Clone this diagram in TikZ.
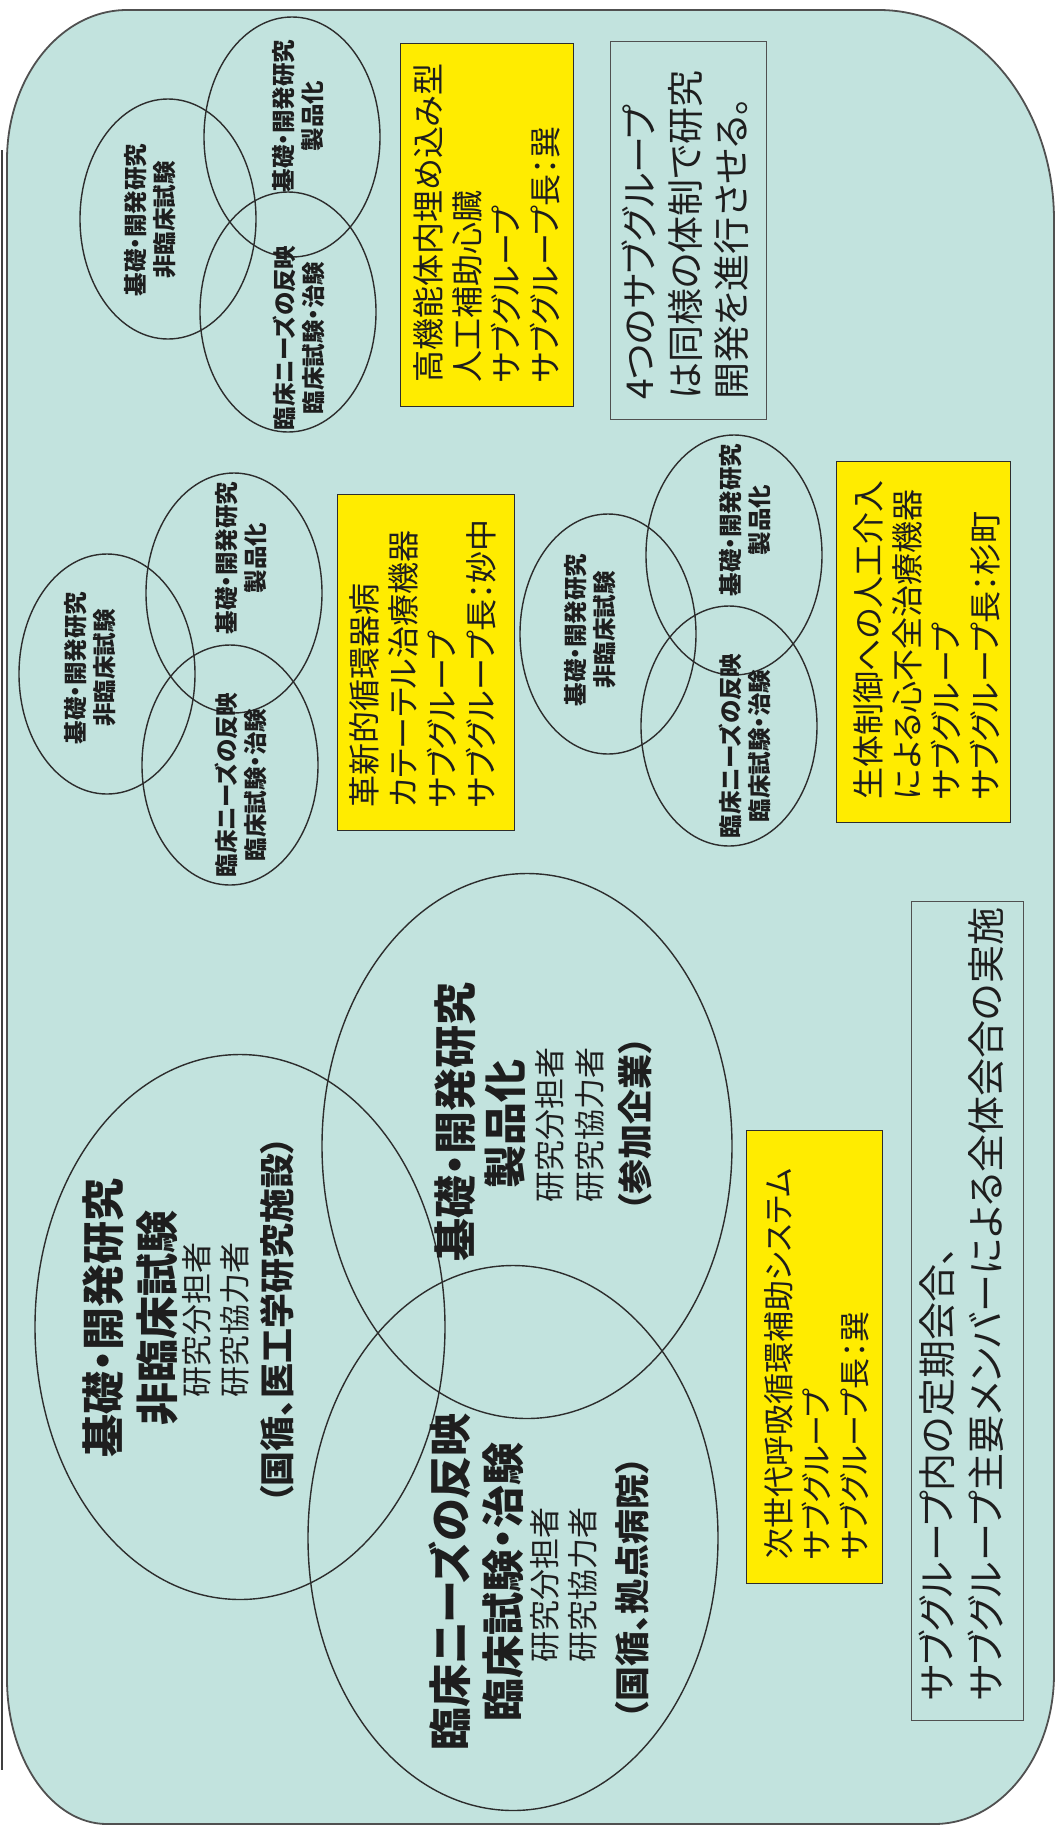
\documentclass[tikz,border=0pt]{standalone}
\usepackage{fontspec}
\setmainfont{Noto Sans CJK JP}[RawFeature=+palt]
\usetikzlibrary{shapes.geometric}
\definecolor{bgc}{RGB}{194,227,222}
\definecolor{ylw}{RGB}{255,236,0}
\definecolor{lnc}{RGB}{45,45,45}
\definecolor{txc}{RGB}{30,30,30}
\definecolor{edgec}{RGB}{80,80,80}
\newcommand\jfs[2]{\fontsize{#1}{#2}\selectfont}
\begin{document}
\begin{tikzpicture}[x=1pt,y=-1pt,
  ell/.style={draw=lnc, line width=1.4pt, ellipse, inner sep=0pt, minimum width=176pt, minimum height=240pt},
  bigell/.style={ell, minimum width=410pt, minimum height=545pt},
  smt/.style={rotate=90, align=center, inner sep=0pt, text=txc, font=\bfseries\jfs{23.5}{29}},
  bigt/.style={rotate=90, inner sep=0pt, text=txc, font=\bfseries\jfs{43}{50}},
  midt/.style={rotate=90, inner sep=0pt, text=txc, font=\jfs{31}{38}},
  part/.style={rotate=90, inner sep=0pt, text=txc, font=\bfseries\jfs{35}{42}},
  ybox/.style={draw=lnc, fill=ylw, line width=1.4pt, anchor=north west, inner sep=0pt},
  wbox/.style={draw=edgec, line width=1.4pt, anchor=north west, inner sep=0pt},
  ytxt/.style={rotate=90, anchor=north west, align=left, inner sep=0pt, text=txc, font=\jfs{32}{39}},
  wtxt/.style={rotate=90, anchor=north west, align=left, inner sep=0pt, text=txc}
]
\useasboundingbox (0,0) rectangle (1059,1831);
\fill[white] (0,0) rectangle (1059,1831);
% scan edge line
\draw[line width=2pt, black!75] (2,150) -- (2,1770);
% background panel
\filldraw[fill=bgc, draw=edgec, line width=1.8pt]
  (127,10) -- (879,10) .. controls (975.7,10) and (1054,104) .. (1054,220)
  -- (1054,1674) .. controls (1054,1757) and (1000.3,1824) .. (934,1824)
  -- (107,1824) .. controls (51.8,1824) and (7,1759.1) .. (7,1679)
  -- (7,160) .. controls (7,77.2) and (60.7,10) .. cycle;

% ---------- group 1 ----------
\node[ell] (e1) at (168,219) {};
\node[ell] (e2) at (292,137) {};
\node[ell] (e3) at (288,312) {};
\node[smt] (t1) at (150,220) {基礎・開発研究\\非臨床試験};
\node[smt] (t2) at (298,116) {基礎・開発研究\\製品化};
\node[smt] (t3) at (299,338) {臨床ニーズの反映\\臨床試験・治験};
\node[ybox, minimum width=173pt, minimum height=363pt] (y1) at (400,43) {};
\node[ytxt] (y1t) at (413,383) {高機能体内埋め込み型\\人工補助心臓\\サブグループ\\サブグループ長：巽};
\node[wbox, minimum width=156pt, minimum height=378pt] (w1) at (610,41) {};
\node[wtxt, font=\jfs{37}{46}] (w1t) at (622,400) {4つのサブグループ\\は同様の体制で研究\\開発を進行させる。};

% ---------- group 2 ----------
\node[ell] (e4) at (107,674) {};
\node[ell] (e5) at (234,593) {};
\node[ell] (e6) at (230,765) {};
\node[smt] (t4) at (90,668) {基礎・開発研究\\非臨床試験};
\node[smt] (t5) at (241,558) {基礎・開発研究\\製品化};
\node[smt] (t6) at (241,785) {臨床ニーズの反映\\臨床試験・治験};
\node[ybox, minimum width=177pt, minimum height=336pt] (y2) at (337,494) {};
\node[ytxt] (y2t) at (349,808) {革新的循環器病\\カテーテル治療機器\\サブグループ\\サブグループ長：妙中};

% ---------- group 3 ----------
\node[ell] (e7) at (608,634) {};
\node[ell] (e8) at (734,555) {};
\node[ell] (e9) at (729,726) {};
\node[smt] (t7) at (590,630) {基礎・開発研究\\非臨床試験};
\node[smt] (t8) at (745,520) {基礎・開発研究\\製品化};
\node[smt] (t9) at (745,746) {臨床ニーズの反映\\臨床試験・治験};
\node[ybox, minimum width=174pt, minimum height=361pt] (y3) at (836,461) {};
\node[ytxt] (y3t) at (853,800) {生体制御への人工介入\\による心不全治療機器\\サブグループ\\サブグループ長：杉町};

% ---------- group 4 (large) ----------
\node[bigell] (e10) at (240,1327) {};
\node[bigell] (e11) at (527,1146) {};
\node[bigell] (e12) at (513,1538) {};
\node[bigt] (e10a) at (103,1318) {基礎・開発研究};
\node[bigt] (e10b) at (157,1318) {非臨床試験};
\node[midt] (e10c) at (197,1320) {研究分担者};
\node[midt] (e10d) at (235,1320) {研究協力者};
\node[part] (e10e) at (277,1320) {（国循、医工学研究施設）};
\node[bigt] (e11a) at (455,1122) {基礎・開発研究};
\node[bigt] (e11b) at (505,1124) {製品化};
\node[midt] (e11c) at (550,1125) {研究分担者};
\node[midt] (e11d) at (590,1125) {研究協力者};
\node[part] (e11e) at (635,1124) {（参加企業）};
\node[bigt] (e12a) at (450,1582) {臨床ニーズの反映};
\node[bigt] (e12b) at (503,1582) {臨床試験・治験};
\node[midt] (e12c) at (545,1585) {研究分担者};
\node[midt] (e12d) at (583,1585) {研究協力者};
\node[part] (e12e) at (632,1588) {（国循、拠点病院）};
\node[ybox, minimum width=136pt, minimum height=453pt] (y4) at (746,1130) {};
\node[ytxt, font=\jfs{31}{38}] (y4t) at (764,1560) {次世代呼吸循環補助システム\\サブグループ\\サブグループ長：巽};
\node[wbox, minimum width=112pt, minimum height=819pt] (w2) at (911,901) {};
\node[wtxt, font=\jfs{38}{49}] (w2t) at (919,1701) {サブグループ内の定期会合、\\サブグループ主要メンバーによる全体会合の実施};
\end{tikzpicture}
\end{document}
